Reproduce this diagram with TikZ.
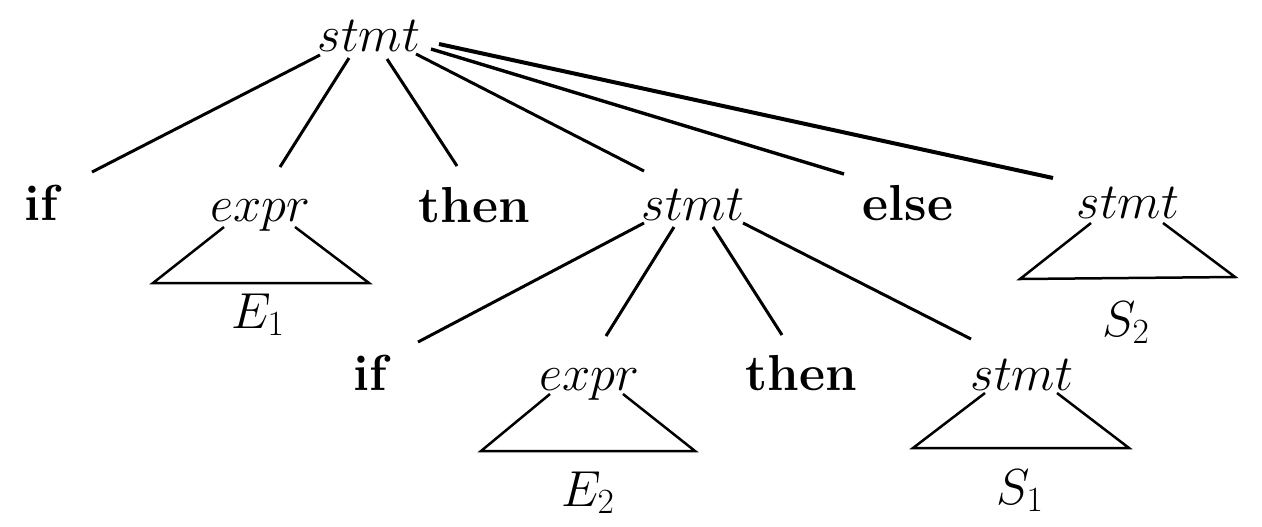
\documentclass[tikz,border=0pt]{standalone}
\usepackage{fix-cm}
\begin{document}
\begin{tikzpicture}[x=0.5pt,y=-0.5pt,
  lbl/.style={anchor=base,inner sep=0pt,font=\fontsize{25.3}{30}\selectfont},
  kw/.style={anchor=base,inner sep=0pt,font=\fontsize{25.3}{30}\selectfont\bfseries},
  edge/.style={line width=1.5pt},
  tri/.style={line width=1.25pt,line join=miter}]
\useasboundingbox (0,0) rectangle (1262,526);
% nodes
\node[lbl] (top) at (369,51) {$stmt$};
\node[kw] (if1) at (41,220) {if};
\node[lbl] (expr1) at (260,221) {$expr$};
\node[kw] (then1) at (474,222) {then};
\node[lbl] (stmt2) at (693,220) {$stmt$};
\node[kw] (else) at (908,220) {else};
\node[lbl] (stmt3) at (1128,218) {$stmt$};
\node[lbl] (E1) at (258,328) {$E_1$};
\node[lbl] (S2) at (1126,336) {$S_2$};
\node[kw] (if2) at (370,390) {if};
\node[lbl] (expr2) at (589,390) {$expr$};
\node[kw] (then2) at (801,390) {then};
\node[lbl] (stmt4) at (1022,390) {$stmt$};
\node[lbl] (E2) at (588,506) {$E_2$};
\node[lbl] (S1) at (1020,504) {$S_1$};
% edges from top stmt
\draw[edge] ([shift={(-49,4)}]top.base) -- ([shift={(51,-48)}]if1.base);
\draw[edge] ([shift={(-20,7)}]top.base) -- ([shift={(20,-54)}]expr1.base);
\draw[edge] ([shift={(18,8)}]top.base) -- ([shift={(-17,-56)}]then1.base);
\draw[edge] ([shift={(47,3)}]top.base) -- ([shift={(-49,-49)}]stmt2.base);
\draw[edge,line width=1.7pt] ([shift={(62,-2)}]top.base) -- ([shift={(-64,-46)}]else.base);
\draw[edge,line width=2pt] ([shift={(70,-7)}]top.base) -- ([shift={(-75,-40)}]stmt3.base);
% edges from inner stmt
\draw[edge] ([shift={(-49,3)}]stmt2.base) -- ([shift={(48,-48)}]if2.base);
\draw[edge] ([shift={(-19,7)}]stmt2.base) -- ([shift={(17,-54)}]expr2.base);
\draw[edge] ([shift={(20,7)}]stmt2.base) -- ([shift={(-19,-55)}]then2.base);
\draw[edge] ([shift={(50,3)}]stmt2.base) -- ([shift={(-51,-51)}]stmt4.base);
% subtree triangles
\draw[tri] ([shift={(-36,6)}]expr1.base) -- ([shift={(-107,62)}]expr1.base) -- ([shift={(109,62)}]expr1.base) -- ([shift={(35,6)}]expr1.base);
\draw[tri] ([shift={(-37,5)}]stmt3.base) -- ([shift={(-108,61)}]stmt3.base) -- ([shift={(107,59)}]stmt3.base) -- ([shift={(35,5)}]stmt3.base);
\draw[tri] ([shift={(-39,4)}]expr2.base) -- ([shift={(-108,61)}]expr2.base) -- ([shift={(106,61)}]expr2.base) -- ([shift={(34,4)}]expr2.base);
\draw[tri] ([shift={(-37,3)}]stmt4.base) -- ([shift={(-109,58)}]stmt4.base) -- ([shift={(107,58)}]stmt4.base) -- ([shift={(35,3)}]stmt4.base);
\end{tikzpicture}
\end{document}
